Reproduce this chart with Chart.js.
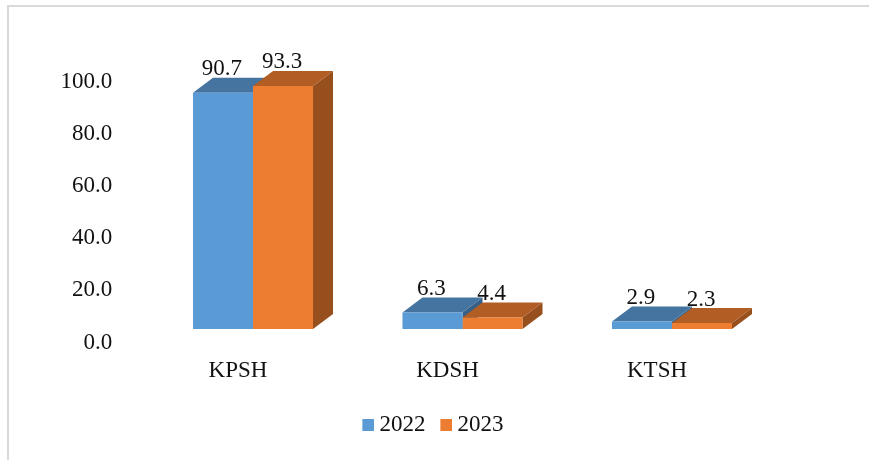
<!DOCTYPE html>
<html>
<head>
<meta charset="utf-8">
<script src="https://cdn.jsdelivr.net/npm/chart.js@4"></script>
<style>
  html, body { margin: 0; padding: 0; background: #fff; }
  #wrap { position: relative; width: 869px; height: 460px; overflow: hidden; }
  #frame { position: absolute; left: 7px; top: 5px; width: 870px; height: 470px; border: 2px solid #d9d9d9; }
  canvas { position: absolute; left: 0; top: 0; }
</style>
</head>
<body>
<div id="wrap">
  <div id="frame"></div>
  <canvas id="chart" width="869" height="460"></canvas>
</div>
<script>
const categories = ['KPSH', 'KDSH', 'KTSH'];
const values2022 = [90.7, 6.3, 2.9];
const values2023 = [93.3, 4.4, 2.3];
const yTickStep = 20;

// warna muka depan, atas, samping
const blue = { front: '#5b9bd5', top: '#44749f', side: '#376089' };
const orange = { front: '#ed7d31', top: '#b25d24', side: '#964f1d' };

const DEPTH_X = 20;
const DEPTH_Y = 15;

// kotak legenda, digambar lewat pointStyle supaya dekat dengan teks
function swatch(color) {
    const c = document.createElement('canvas');
    c.width = 14;
    c.height = 12;
    const g = c.getContext('2d');
    g.fillStyle = color;
    g.fillRect(2, 0, 12, 12);
    return c;
}

function face(ctx, color, pts) {
    ctx.fillStyle = color;
    ctx.beginPath();
    pts.forEach((p, i) => i ? ctx.lineTo(p[0], p[1]) : ctx.moveTo(p[0], p[1]));
    ctx.closePath();
    ctx.fill();
}

// muka atas dan samping untuk efek 3D, mengikuti posisi bar dari Chart.js
const bars3d = {
    id: 'bars3d',
    afterLayout(chart) {
        // legenda digeser agar berada di tengah seperti aslinya
        chart.legend.left += 24.75;
        chart.legend.right += 24.75;
    },
    beforeDatasetsDraw(chart) {
        const ctx = chart.ctx;
        chart.data.datasets.forEach((ds, i) => {
            chart.getDatasetMeta(i).data.forEach(bar => {
                const left = bar.x - bar.width / 2;
                const right = bar.x + bar.width / 2;
                face(ctx, ds.shade.side, [[right, bar.y], [right + DEPTH_X, bar.y - DEPTH_Y], [right + DEPTH_X, bar.base - DEPTH_Y], [right, bar.base]]);
                face(ctx, ds.shade.top, [[left, bar.y], [left + DEPTH_X, bar.y - DEPTH_Y], [right + DEPTH_X, bar.y - DEPTH_Y], [right, bar.y]]);
            });
        });
    },
    afterDatasetsDraw(chart) {
        const ctx = chart.ctx;
        ctx.save();
        ctx.font = '23px "Liberation Serif"';
        ctx.fillStyle = '#111';
        ctx.textAlign = 'center';
        ctx.textBaseline = 'alphabetic';
        chart.data.datasets.forEach((ds, i) => {
            chart.getDatasetMeta(i).data.forEach((bar, j) => {
                ctx.fillText(ds.data[j].toFixed(1), bar.x - 1, bar.y - 17.5);
            });
        });
        ctx.restore();
    }
};

new Chart(document.getElementById('chart'), {
    type: 'bar',
    data: {
        labels: categories,
        datasets: [
            { label: '2022', data: values2022, backgroundColor: blue.front, shade: blue, pointStyle: swatch(blue.front) },
            { label: '2023', data: values2023, backgroundColor: orange.front, shade: orange, pointStyle: swatch(orange.front) }
        ]
    },
    plugins: [bars3d],
    options: {
        responsive: false,
        animation: false,
        layout: { padding: { left: 44, right: 92.25, top: 68.5, bottom: 14 } },
        datasets: { bar: { categoryPercentage: 0.573, barPercentage: 1 } },
        scales: {
            x: {
                grid: { display: false, drawTicks: false },
                border: { display: false },
                afterFit(scale) { scale.height = 64.5; },
                ticks: {
                    color: '#111',
                    font: { family: '"Liberation Serif"', size: 23 },
                    padding: 28,
                    labelOffset: -15,
                    maxRotation: 0
                }
            },
            y: {
                min: 0,
                max: 100,
                grid: { display: false, drawTicks: false },
                border: { display: false },
                afterFit(scale) { scale.width = 104.25; },
                ticks: {
                    stepSize: yTickStep,
                    color: '#111',
                    font: { family: '"Liberation Serif"', size: 23 },
                    padding: 36,
                    labelOffset: 13.5,
                    callback: value => value.toFixed(1)
                }
            }
        },
        plugins: {
            tooltip: { enabled: false },
            legend: {
                position: 'bottom',
                labels: {
                    usePointStyle: true,
                    boxWidth: 1,
                    padding: 19.5,
                    color: '#111',
                    font: { family: '"Liberation Serif"', size: 23 }
                }
            }
        }
    }
});
</script>
</body>
</html>
